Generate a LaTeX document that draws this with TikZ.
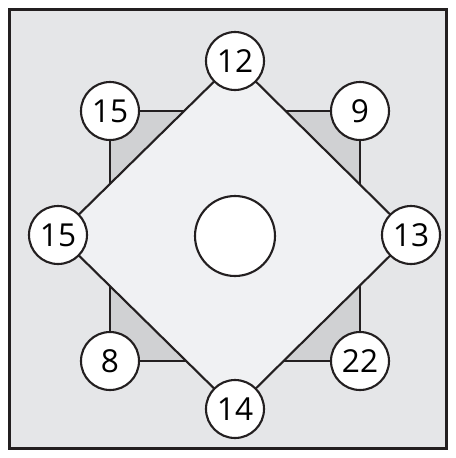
\documentclass[tikz,border=0pt]{standalone}
\usepackage{fontspec}
\setmainfont{Open Sans}
\usetikzlibrary{backgrounds}
\definecolor{frame}{RGB}{229,230,232}
\definecolor{inner}{RGB}{208,209,211}
\definecolor{diam}{RGB}{240,241,243}
\definecolor{ink}{RGB}{35,31,32}
\tikzset{
  num/.style={draw=ink, fill=white, circle, line width=1.2pt, minimum size=1.16cm,
              inner sep=0pt, font=\fontsize{18}{20}\selectfont},
  hole/.style={draw=ink, fill=white, circle, line width=1.2pt, minimum size=1.6cm,
               inner sep=0pt},
  edge/.style={draw=ink, line width=1.2pt},
}
\begin{document}
\begin{tikzpicture}[x=0.02cm, y=-0.02cm]
  \useasboundingbox (0,0) rectangle (456,458);

  %% corner numbers
  \node[num] (tl) at (110,111) {15};
  \node[num] (tr) at (360,111) {9};
  \node[num] (bl) at (110,361) {8};
  \node[num] (br) at (360,361) {22};

  %% diamond numbers
  \node[num] (top) at (235,61) {12};
  \node[num] (rt) at (411,235) {13};
  \node[num] (bot) at (235,409) {14};
  \node[num] (lt) at (58,235) {15};

  \node[hole] (mid) at (235,236) {};

  \begin{scope}[on background layer]
    \path[fill=frame, edge] (9.5,9.5) rectangle (446.5,448.5);
    \path[fill=inner, edge] (tl.center) -- (tr.center) -- (br.center) -- (bl.center) -- cycle;
    \path[fill=diam, edge, line join=miter] (top.center) -- (rt.center) -- (bot.center) -- (lt.center) -- cycle;
  \end{scope}
\end{tikzpicture}
\end{document}
